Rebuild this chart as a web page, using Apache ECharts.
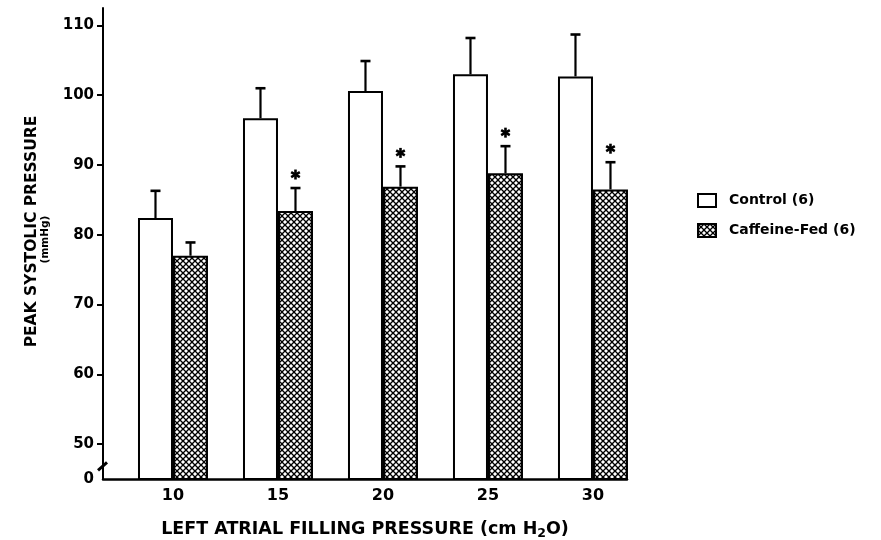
<!DOCTYPE html>
<html>
<head>
<meta charset="utf-8">
<script src="https://cdn.jsdelivr.net/npm/echarts@6/dist/echarts.min.js"></script>
<style>
html,body{margin:0;padding:0;background:#fff;}
#chart{width:881px;height:540px;}
</style>
</head>
<body>
<div id="chart"></div>
<script>
// ---- data ----
var categories = [10, 15, 20, 25, 30];
var controlMean = [82.4, 96.7, 100.6, 103.0, 102.7];
var controlErr  = [3.9, 4.3, 4.3, 5.2, 6.0];
var caffeineMean = [77.0, 83.4, 86.9, 88.8, 86.5];
var caffeineErr  = [1.9, 3.3, 2.9, 3.9, 3.9];
var caffeineSig  = [0, 1, 1, 1, 1];
var yTickValues = [50, 60, 70, 80, 90, 100, 110];
var yLabelValues = [45, 50, 60, 70, 80, 90, 100, 110];
var seriesNames = ['Control (6)', 'Caffeine-Fed (6)'];

var FONT = 'DejaVu Sans';
var X_MIN = 6.667, X_MAX = 31.62;
var Y_MIN = 45, Y_MAX = 112.5;
var BAR_W = 35;

// crosshatch pattern
function makeHatch() {
  var c = document.createElement('canvas');
  c.width = 6; c.height = 6;
  var g = c.getContext('2d');
  g.fillStyle = '#fff'; g.fillRect(0, 0, 6, 6);
  g.strokeStyle = '#000'; g.lineWidth = 1.3;
  for (var dx = -6; dx <= 6; dx += 6) {
    g.beginPath(); g.moveTo(dx, 0); g.lineTo(dx + 6, 6); g.stroke();
    g.beginPath(); g.moveTo(dx, 6); g.lineTo(dx + 6, 0); g.stroke();
  }
  return c;
}
var hatch = makeHatch();

function pairs(xs, ys) { return xs.map(function (x, i) { return [x, ys[i]]; }); }

function errRender(offset, means, errs, sig) {
  return function (params, api) {
    var i = params.dataIndex;
    var x = api.value(0);
    var p0 = api.coord([x, means[i]]);
    var p1 = api.coord([x, means[i] + errs[i]]);
    var cx = p0[0] + offset;
    var children = [
      { type: 'line', shape: { x1: cx, y1: p0[1], x2: cx, y2: p1[1] }, style: { stroke: '#000', lineWidth: 2.2 } },
      { type: 'line', shape: { x1: cx - 5, y1: p1[1], x2: cx + 5, y2: p1[1] }, style: { stroke: '#000', lineWidth: 2.6 } }
    ];
    if (sig && sig[i]) {
      var sy = p1[1] - 13.5, r = 5;
      for (var k = 0; k < 3; k++) {
        var a = Math.PI / 2 + k * Math.PI / 3;
        children.push({ type: 'line', shape: { x1: cx - r * Math.cos(a), y1: sy - r * Math.sin(a), x2: cx + r * Math.cos(a), y2: sy + r * Math.sin(a) }, style: { stroke: '#000', lineWidth: 2.6 } });
      }
    }
    return { type: 'group', children: children };
  };
}

var chart = echarts.init(document.getElementById('chart'), null, { renderer: 'canvas' });
chart.setOption({
  animation: false,
  backgroundColor: '#fff',
  textStyle: { fontFamily: FONT },
  grid: { left: 103, right: 254, top: 8, bottom: 61, containLabel: false, outerBoundsMode: 'none' },
  legend: {
    orient: 'vertical', left: 697, top: 193, padding: 0, itemWidth: 18, itemHeight: 13, itemGap: 15,
    icon: 'rect',
    data: seriesNames,
    textStyle: { fontFamily: FONT, fontWeight: 'bold', fontSize: 14, color: '#000', padding: [0, 0, 0, 8] }
  },
  xAxis: {
    type: 'value', min: X_MIN, max: X_MAX,
    splitLine: { show: false },
    axisLine: { show: true, lineStyle: { color: '#000', width: 2.5 } },
    axisTick: { show: false },
    axisLabel: { customValues: categories, color: '#000', fontFamily: FONT, fontWeight: 'bold', fontSize: 16, margin: 9 },
    name: 'LEFT ATRIAL FILLING PRESSURE (cm H{sub|2}O)',
    nameLocation: 'middle', nameGap: 40,
    nameTextStyle: {
      color: '#000', fontFamily: FONT, fontWeight: 'bold', fontSize: 17.5,
      rich: { sub: { fontFamily: FONT, fontWeight: 'bold', fontSize: 12.5, color: '#000', padding: [8, 0, 0, 0] } }
    }
  },
  yAxis: {
    type: 'value', min: Y_MIN, max: Y_MAX,
    splitLine: { show: false },
    axisLine: { show: true, lineStyle: { color: '#000', width: 2 } },
    axisTick: { show: true, customValues: yTickValues, length: 6, lineStyle: { color: '#000', width: 2 } },
    axisLabel: {
      customValues: yLabelValues, color: '#000', fontFamily: FONT, fontWeight: 'bold', fontSize: 15, margin: 9,
      formatter: function (v) { return v === 45 ? '0' : String(v); }
    },
    name: '{a|PEAK SYSTOLIC PRESSURE}\n{b|(mmHg)}',
    nameLocation: 'middle', nameGap: 51.5, nameRotate: 90,
    nameTextStyle: {
      color: '#000', align: 'center', padding: [0, 0, 0, 24],
      rich: {
        a: { fontFamily: FONT, fontWeight: 'bold', fontSize: 15.5, color: '#000', lineHeight: 14, align: 'center' },
        b: { fontFamily: FONT, fontWeight: 'bold', fontSize: 10.5, color: '#000', lineHeight: 13, align: 'center', padding: [0, 16, 0, 0] }
      }
    }
  },
  series: [
    {
      name: seriesNames[0], type: 'bar', barWidth: BAR_W, barGap: '0%',
      data: pairs(categories, controlMean),
      itemStyle: { color: '#fff', borderColor: '#000', borderWidth: 2 }
    },
    {
      name: seriesNames[1], type: 'bar', barWidth: BAR_W, barGap: '0%',
      data: pairs(categories, caffeineMean),
      itemStyle: { color: { image: hatch, repeat: 'repeat' }, borderColor: '#000', borderWidth: 2 }
    },
    {
      type: 'custom', name: 'errControl', silent: true, z: 5,
      renderItem: errRender(-BAR_W / 2, controlMean, controlErr, null),
      data: pairs(categories, controlMean)
    },
    {
      type: 'custom', name: 'errCaffeine', silent: true, z: 5,
      renderItem: errRender(BAR_W / 2, caffeineMean, caffeineErr, caffeineSig),
      data: pairs(categories, caffeineMean)
    },
    {
      type: 'custom', name: 'axisBreak', silent: true, z: 6, clip: false,
      renderItem: function (params, api) {
        var p = api.coord([api.value(0), api.value(1)]);
        return { type: 'line', shape: { x1: p[0] - 5, y1: p[1] + 4, x2: p[0] + 4, y2: p[1] - 4 }, style: { stroke: '#000', lineWidth: 3 } };
      },
      data: [[X_MIN, 46.8]]
    }
  ]
});
</script>
</body>
</html>
